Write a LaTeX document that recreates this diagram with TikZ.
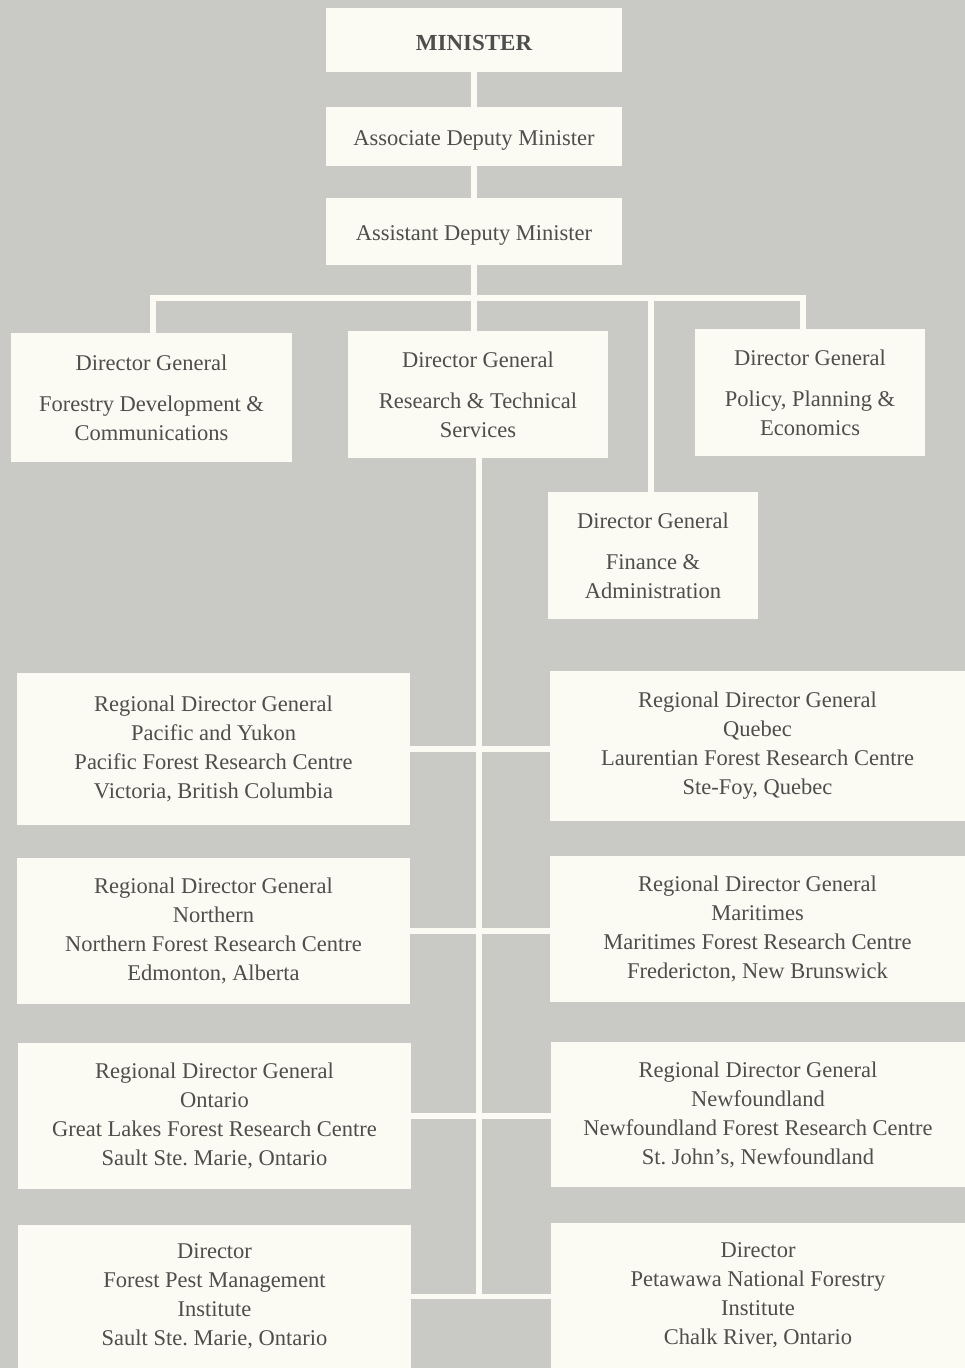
\documentclass[tikz,border=0pt]{standalone}
\usepackage{fontspec}
\setmainfont{Liberation Serif}
\usetikzlibrary{backgrounds}
\definecolor{pagegrey}{RGB}{201,201,198}
\definecolor{boxwhite}{RGB}{251,251,244}
\definecolor{inkgrey}{RGB}{78,78,76}
\frenchspacing
\begin{document}
\begin{tikzpicture}[x=1pt,y=1pt,
  every node/.style={inner sep=0pt, align=center, text=inkgrey, font=\fontsize{22.5}{29}\selectfont,
    execute at begin node={\rule{0pt}{22pt}}},
  post/.style 2 args={fill=boxwhite, minimum width=#1, minimum height=#2},
  link/.style={draw=boxwhite, line width=5.5pt}]
\useasboundingbox (0,0) rectangle (965,-1368);
\node[post={296pt}{64pt}, font=\bfseries\fontsize{23}{28}\selectfont] (min) at (474,-40) {MINISTER};
\node[post={296pt}{59pt}] (assoc) at (474,-136.5) {Associate Deputy Minister};
\node[post={296pt}{67pt}] (asst) at (474,-231.5) {Assistant Deputy Minister};
\node[post={281pt}{129pt}] (dgfd) at (151.5,-397.5) {Director General\\[12pt]Forestry Development \&\\Communications};
\node[post={260pt}{127pt}] (dgrt) at (478,-394.5) {Director General\\[12pt]Research \& Technical\\Services};
\node[post={230pt}{127pt}] (dgpp) at (810,-392.5) {Director General\\[12pt]Policy, Planning \&\\Economics};
\node[post={210pt}{127pt}] (dgfa) at (653,-555.5) {Director General\\[12pt]Finance \&\\Administration};
\node[post={393pt}{152pt}] (pac) at (213.5,-749) {Regional Director General\\Pacific and Yukon\\Pacific Forest Research Centre\\Victoria, British Columbia};
\node[post={415pt}{150pt}] (que) at (757.5,-746) {Regional Director General\\Quebec\\Laurentian Forest Research Centre\\Ste-Foy, Quebec};
\node[post={393pt}{146pt}] (nor) at (213.5,-931) {Regional Director General\\Northern\\Northern Forest Research Centre\\Edmonton, Alberta};
\node[post={415pt}{146pt}] (mar) at (757.5,-929) {Regional Director General\\Maritimes\\Maritimes Forest Research Centre\\Fredericton, New Brunswick};
\node[post={393pt}{146pt}] (ont) at (214.5,-1116) {Regional Director General\\Ontario\\Great Lakes Forest Research Centre\\Sault Ste. Marie, Ontario};
\node[post={414pt}{145pt}] (nfl) at (758,-1114.5) {Regional Director General\\Newfoundland\\Newfoundland Forest Research Centre\\St. John’s, Newfoundland};
\node[post={393pt}{143pt}] (fpm) at (214.5,-1296.5) {Director\\Forest Pest Management\\Institute\\Sault Ste. Marie, Ontario};
\node[post={414pt}{145pt}] (pnf) at (758,-1295.5) {Director\\Petawawa National Forestry\\Institute\\Chalk River, Ontario};
\coordinate (bar w) at (153,-298);
\coordinate (bar e) at (803,-298);
\coordinate (fin top) at (651,-298);
\coordinate (trunk end) at (479,-1297);
\begin{scope}[on background layer]
\fill[pagegrey] (0,0) rectangle (965,-1368);
\draw[link] (min) -- (assoc);
\draw[link] (assoc) -- (asst);
\draw[link] (asst) -- (asst |- dgrt.north);
\draw[link] (dgfd.north -| bar w) -- (bar w) -- (bar e) -- (dgpp.north -| bar e);
\draw[link] (fin top) -- (fin top |- dgfa.north);
\draw[link] (dgrt.south -| trunk end) -- (trunk end);
\foreach \l/\r in {pac/que, nor/mar, ont/nfl, fpm/pnf}
  \draw[link] (\l.east) -- (\l.east -| \r.west);
\end{scope}
\end{tikzpicture}
\end{document}
